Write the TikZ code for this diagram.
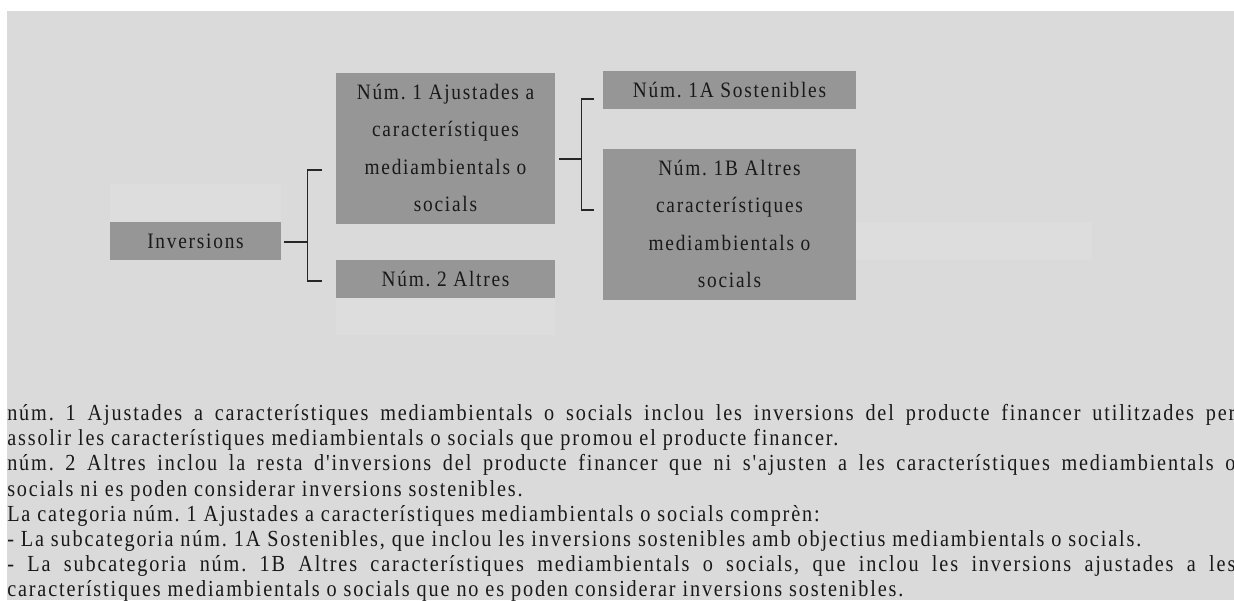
\documentclass[tikz,border=0pt]{standalone}
\usepackage{fontspec}
\setmainfont{Liberation Serif}[FakeStretch=0.88,LetterSpace=8,Ligatures=TeXOff]
\usepackage{xcolor}
\usepackage{tikz}
\definecolor{fons}{HTML}{DADADA}
\definecolor{caixagris}{HTML}{969696}
\definecolor{buit}{HTML}{DDDDDD}
\frenchspacing

\begin{document}
\begin{tikzpicture}[x=0.75pt,y=-0.75pt,
  caixa/.style={fill=caixagris,inner sep=0pt,align=center,text=black!90,
    font=\fontsize{16.5pt}{28pt}\selectfont},
  buida/.style={fill=buit,draw=none},
  lligam/.style={draw=black!85,line width=0.8pt}]
             \fill[white] (0,0) rectangle (1234,600);
             \useasboundingbox (0,0) rectangle (1234,600);
             \fill[fons] (7,11) rectangle (1234,600);

             \fill[buida] (110,184) rectangle (281,222);
             \fill[buida] (336,298) rectangle (555,335);
             \fill[buida] (856,222) rectangle (1092,260);

             \node[caixa,minimum width=128.25pt,minimum height=28.5pt] (inv) at (195.5,241) {Inversions};
             \node[caixa,minimum width=164.25pt,minimum height=113.25pt] (n1) at (445.5,148)
               {Núm. 1 Ajustades a\\característiques\\mediambientals o\\socials};
             \node[caixa,minimum width=164.25pt,minimum height=28.5pt] (n2) at (445.5,279) {Núm. 2 Altres};
             \node[caixa,minimum width=189.75pt,minimum height=28.5pt] (n1a) at (729.5,90) {Núm. 1A Sostenibles};
             \node[caixa,minimum width=189.75pt,minimum height=113.25pt] (n1b) at (729.5,224)
               {Núm. 1B Altres\\característiques\\mediambientals o\\socials};

             \coordinate (c1a) at (322,170);
             \coordinate (c1b) at (322,281);
             \draw[lligam] ([shift={(3,1)}]inv.east) -- ++(23,0) coordinate (c1m);
             \draw[lligam] (c1a) -| (c1m) |- (c1b);

             \coordinate (c2a) at (594,99);
             \coordinate (c2b) at (594,210);
             \draw[lligam] ([shift={(4,11)}]n1.east) -- ++(22,0) coordinate (c2m);
             \draw[lligam] (c2a) -| (c2m) |- (c2b);

             \node[anchor=north west,inner sep=0pt,text width=921pt,align=justify,text=black!90,
               font=\fontsize{17.25pt}{18.9pt}\selectfont] (nota) at (7,404)
               {\setlength\parindent{0pt}%
               núm. 1 Ajustades a característiques mediambientals o socials inclou les inversions del producte financer utilitzades per\linebreak
               assolir les característiques mediambientals o socials que promou el producte financer.\par
               núm. 2 Altres inclou la resta d'inversions del producte financer que ni s'ajusten a les característiques mediambientals o\linebreak
               socials ni es poden considerar inversions sostenibles.\par
               La categoria núm. 1 Ajustades a característiques mediambientals o socials comprèn:\par
               - La subcategoria núm. 1A Sostenibles, que inclou les inversions sostenibles amb objectius mediambientals o socials.\par
               - La subcategoria núm. 1B Altres característiques mediambientals o socials, que inclou les inversions ajustades a les\linebreak
               característiques mediambientals o socials que no es poden considerar inversions sostenibles.\par};
\end{tikzpicture}
\end{document}
